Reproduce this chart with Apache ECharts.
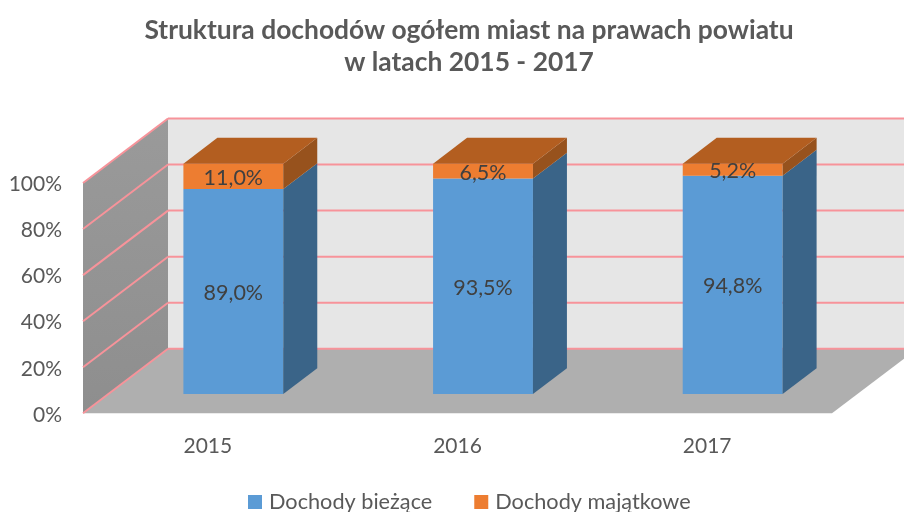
<!DOCTYPE html>
<html><head><meta charset="utf-8">
<style>html,body{margin:0;padding:0;background:#fff}#c{width:904px;height:512px}</style>
<script src="https://cdn.jsdelivr.net/npm/echarts@6/dist/echarts.min.js"></script>
</head><body><div id="c"></div>
<script>
const categories = ['2015','2016','2017'];
const biezace = [89.0, 93.5, 94.8];
const majatkowe = [11.0, 6.5, 5.2];
const yTicks = [0,20,40,60,80,100];
const titleText = 'Struktura dochodów ogółem miast na prawach powiatu\nw latach 2015 - 2017';
const FONT = 'Lato';
const DX = 85, DY = -64.5;          // 3D depth of the plot box
const GAP = 0.3, BAR_D = 0.4;       // bar position in the depth
const PINK = '#f7939a';

const poly = (pts, fill, z2) => ({type:'polygon', z2:z2||0, shape:{points:pts}, style:{fill:fill}, silent:true});
const line = (a, b) => ({type:'line', shape:{x1:a[0],y1:a[1],x2:b[0],y2:b[1]}, style:{stroke:PINK,lineWidth:2}, silent:true});

function renderWalls(params, api){
  const c = params.coordSys, l = c.x, r = c.x+c.width, t = c.y, b = c.y+c.height;
  return {type:'group', children:[
    {type:'polygon', shape:{points:[[l,b],[l+DX,b+DY],[l+DX,t+DY],[l,t]]},
      style:{fill:{type:'linear',x:0,y:0,x2:0,y2:1,colorStops:[{offset:0,color:'#9a9a9a'},{offset:1,color:'#8e8e8e'}]}}, silent:true},
    poly([[l+DX,t+DY],[r+DX,t+DY],[r+DX,b+DY],[l+DX,b+DY]], '#e6e6e6'),
    poly([[l,b],[r,b],[r+DX,b+DY],[l+DX,b+DY]], '#afafaf')
  ]};
}
function renderGrid(params, api){
  const c = params.coordSys, l = c.x, r = c.x+c.width;
  const y = api.coord([0, api.value(0)])[1];
  return {type:'group', children:[
    line([l,y],[l+DX,y+DY]),
    line([l+DX,y+DY],[r+DX,y+DY])
  ]};
}
function renderBar(front, side, top, isTop){
  return function(params, api){
    const i = api.value(0), base = api.value(1), val = api.value(2);
    const w = api.size([1,0])[0]*0.4;
    const cx = api.coord([i,0])[0] + DX*GAP;
    const y0 = api.coord([i,base])[1] + DY*GAP;
    const y1 = api.coord([i,base+val])[1] + DY*GAP;
    const l = cx-w/2, r = cx+w/2, dx = DX*BAR_D, dy = DY*BAR_D;
    const ch = [
      poly([[l,y0],[r,y0],[r,y1],[l,y1]], front, 1),
      poly([[r,y0],[r+dx,y0+dy],[r+dx,y1+dy],[r,y1]], side, 1)
    ];
    if(top) ch.push(poly([[l,y1],[r,y1],[r+dx,y1+dy],[l+dx,y1+dy]], top, 1));
    ch.push({type:'text', z2:5, silent:true, x:cx, y:(y0+y1)/2+1.5, style:{
      text:val.toFixed(1).replace('.',',')+'%', fill:'#404040', font:'21.5px '+FONT, align:'center', verticalAlign:'middle'}});
    return {type:'group', children:ch};
  };
}
const base2 = biezace;
const chart = echarts.init(document.getElementById('c'), null, {renderer:'canvas'});
chart.setOption({
  animation:false,
  backgroundColor:'#fff',
  title:{text:titleText, left:464, top:9.5, textAlign:'center',
    textStyle:{fontFamily:FONT, fontWeight:'bold', fontSize:26.4, lineHeight:32, color:'#595959'}},
  legend:{data:['Dochody bieżące','Dochody majątkowe'], left:248, top:491, padding:0, itemWidth:14, itemHeight:14, itemGap:42,
    icon:'rect', textStyle:{fontFamily:FONT, fontSize:21.7, color:'#595959', padding:[0,0,0,2]}},
  grid:{left:83, right:72, top:183, bottom:98.7},
  xAxis:{type:'category', data:categories, axisLine:{show:false}, axisTick:{show:false}, splitLine:{show:false},
    axisLabel:{fontFamily:FONT, fontSize:21, color:'#595959', margin:22}},
  yAxis:{type:'value', min:0, max:100, interval:20, axisLine:{show:false}, axisTick:{show:false}, splitLine:{show:false},
    axisLabel:{fontFamily:FONT, fontSize:21, color:'#595959', margin:21, verticalAlign:'top', lineHeight:3, formatter:'{value}%'}},
  series:[
    {type:'custom', name:'walls', z:1, renderItem:renderWalls, data:[[0]], encode:{x:0}, silent:true, clip:false},
    {type:'custom', name:'gridlines', z:2, renderItem:renderGrid, data:yTicks.map(v=>[v]), encode:{y:0}, silent:true, clip:false},
    {type:'custom', name:'Dochody bieżące', z:3, itemStyle:{color:'#5b9bd5'}, clip:false,
      renderItem:renderBar('#5b9bd5','#3a6488',null),
      data:biezace.map((v,i)=>[i,0,v]), encode:{x:0,y:2}},
    {type:'custom', name:'Dochody majątkowe', z:4, itemStyle:{color:'#ed7d31'}, clip:false,
      renderItem:renderBar('#ed7d31','#97521d','#b35e20'),
      data:majatkowe.map((v,i)=>[i,base2[i],v]), encode:{x:0,y:2}}
  ]
});
</script></body></html>
